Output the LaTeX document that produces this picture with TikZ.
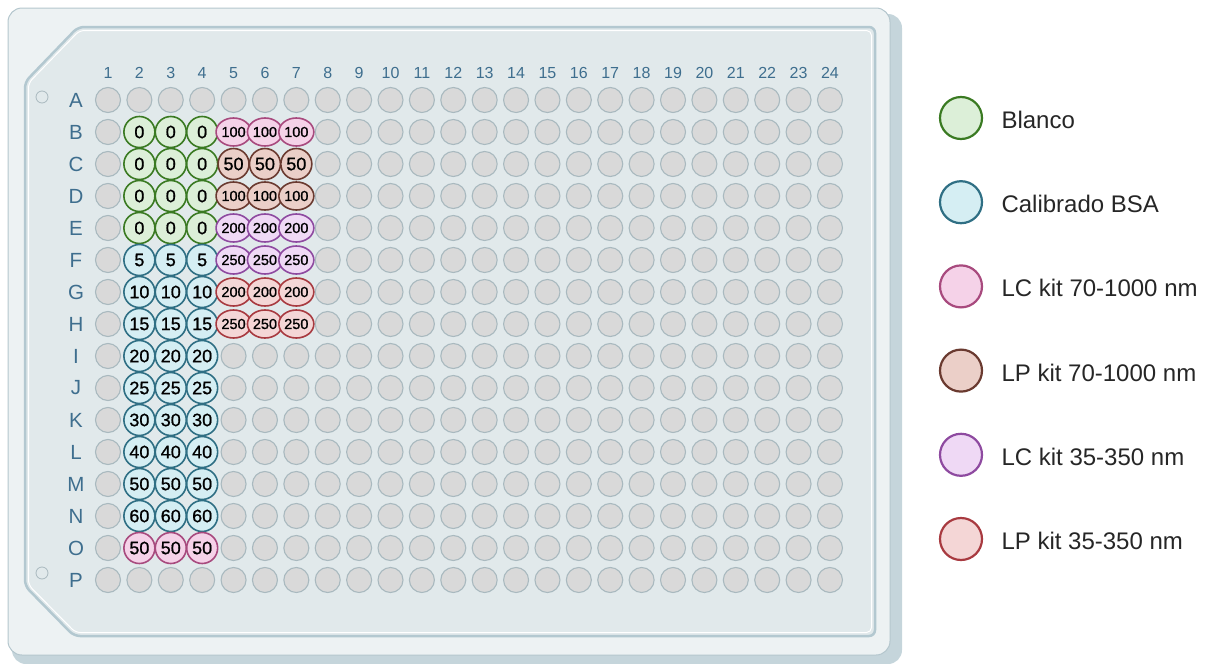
\documentclass[tikz,border=0pt]{standalone}
\usepackage{fontspec}
\setmainfont{Liberation Sans}
\newfontfamily\wellfont[FakeBold=0.9]{Liberation Sans}
\usetikzlibrary{shapes.geometric}
\definecolor{facecol}{HTML}{EDF2F3}
\definecolor{sidecol}{HTML}{C5D5DB}
\definecolor{faceline}{HTML}{B4C6CD}
\definecolor{platebg}{HTML}{E1E9EB}
\definecolor{innerline}{HTML}{B3C8D0}
\definecolor{wellfill}{HTML}{D9D9D9}
\definecolor{wellline}{HTML}{A9B9BF}
\definecolor{labcol}{HTML}{3E6E8E}
\definecolor{blfill}{HTML}{DCEFD8}
\definecolor{blline}{HTML}{3A7A22}
\definecolor{bsafill}{HTML}{D5EEF3}
\definecolor{bsaline}{HTML}{2F6F84}
\definecolor{lcsfill}{HTML}{F5D2E8}
\definecolor{lcsline}{HTML}{A84A7E}
\definecolor{lpsfill}{HTML}{EBCFC8}
\definecolor{lpsline}{HTML}{6A3A30}
\definecolor{lctfill}{HTML}{EFD9F5}
\definecolor{lctline}{HTML}{8E4AA0}
\definecolor{lptfill}{HTML}{F4D6D6}
\definecolor{lptline}{HTML}{A83A40}
\begin{document}
\begin{tikzpicture}[x=1pt,y=-1pt,
  well/.style={circle, draw=wellline, fill=wellfill, line width=1.1pt, minimum size=25pt, inner sep=0pt},
  cw/.style={circle, minimum size=31pt, inner sep=0pt, line width=1.6pt, text=black, font=\wellfont\fontsize{18}{18}\selectfont},
  ew/.style={ellipse, minimum width=35pt, minimum height=28pt, inner sep=0pt, line width=1.6pt, text=black, font=\wellfont\fontsize{14.5}{14.5}\selectfont},
  bl/.style={fill=blfill, draw=blline},
  bsa/.style={fill=bsafill, draw=bsaline},
  lcs/.style={fill=lcsfill, draw=lcsline},
  lps/.style={fill=lpsfill, draw=lpsline},
  lct/.style={fill=lctfill, draw=lctline},
  lpt/.style={fill=lptfill, draw=lptline},
  rowlab/.style={text=labcol, font=\fontsize{20.5}{20.5}\selectfont},
  collab/.style={text=labcol, font=\fontsize{16}{16}\selectfont},
  legc/.style={circle, minimum size=42pt, inner sep=0pt, line width=2.2pt},
  legt/.style={anchor=west, text=black!85, font=\fontsize{24}{24}\selectfont}]
\useasboundingbox (0,0) rectangle (1211,664);
% plate body
\fill[sidecol, rounded corners=14pt] (12,14) rectangle (902,664);
\filldraw[fill=facecol, draw=faceline, line width=1pt, rounded corners=14pt] (8,8) rectangle (890,655);
\filldraw[fill=platebg, draw=innerline, line width=2.5pt, rounded corners=6pt]
  (25,82) -- (78,27) -- (875,27) -- (875,636) -- (74,636) -- (25,586) -- cycle;
\draw[white, line width=1pt, rounded corners=5pt]
  (28.5,83) -- (79.5,30.5) -- (871.5,30.5) -- (871.5,632.5) -- (75.5,632.5) -- (28.5,585) -- cycle;
\node[circle, minimum size=12pt, inner sep=0pt, fill=platebg, draw=wellline, line width=0.8pt] (m1) at (42,97) {};
\node[circle, minimum size=12pt, inner sep=0pt, fill=platebg, draw=wellline, line width=0.8pt] (m2) at (42,573) {};
% column labels
\foreach \c in {1,...,24} \node[collab] (col-\c) at ({108+(\c-1)*31.39},73) {\c};
% rows and grey wells
\foreach \r [count=\ri] in {A,B,C,D,E,F,G,H,I,J,K,L,M,N,O,P} {
  \node[rowlab] (row-\r) at (76,{100+(\ri-1)*32}) {\r};
  \foreach \c in {1,...,24}
    \node[well] (w-\r-\c) at ({108+(\c-1)*31.39},{100+(\ri-1)*32}) {};
}
% coloured wells, columns 2-4
\foreach \ri/\lab/\sty in {2/0/bl,3/0/bl,4/0/bl,5/0/bl,6/5/bsa,7/10/bsa,8/15/bsa,9/20/bsa,10/25/bsa,11/30/bsa,12/40/bsa,13/50/bsa,14/60/bsa,15/50/lcs}
  \foreach \c in {2,3,4}
    \node[cw,\sty] (s-\ri-\c) at ({108+(\c-1)*31.39},{100+(\ri-1)*32}) {\lab};
% coloured wells, columns 5-7
\foreach \ri/\lab/\sty/\shp in {2/100/lcs/ew,3/50/lps/cw,4/100/lps/ew,5/200/lct/ew,6/250/lct/ew,7/200/lpt/ew,8/250/lpt/ew}
  \foreach \c in {5,6,7}
    \node[\shp,\sty] (k-\ri-\c) at ({108+(\c-1)*31.39},{100+(\ri-1)*32}) {\lab};
% legend
\foreach \i/\sty/\txt in {1/bl/Blanco,2/bsa/Calibrado BSA,3/lcs/LC kit 70-1000 nm,4/lps/LP kit 70-1000 nm,5/lct/LC kit 35-350 nm,6/lpt/LP kit 35-350 nm} {
  \node[legc,\sty] (leg-\i) at (961,{118+(\i-1)*84.2}) {};
  \node[legt] (legt-\i) at (998,{120+(\i-1)*84.2}) {\txt};
}
\end{tikzpicture}
\end{document}
